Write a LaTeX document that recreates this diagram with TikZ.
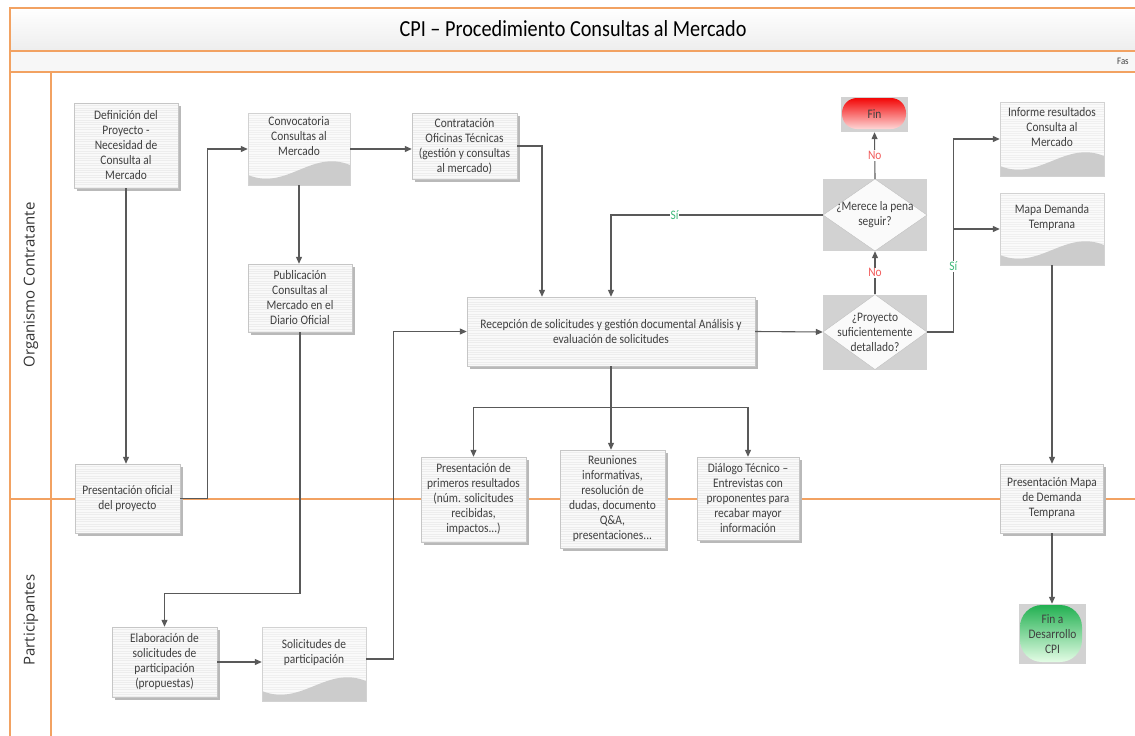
\documentclass[tikz,border=0pt]{standalone}
\usepackage{fontspec}
\setmainfont{Carlito}[FakeStretch=0.88]
\newfontfamily\lanefont{Open Sans}
\usetikzlibrary{arrows.meta,shadows,calc}

\definecolor{lanecol}{HTML}{F2A262}
\definecolor{txtcol}{HTML}{404040}
\definecolor{nocol}{HTML}{F25C5C}
\definecolor{sicol}{HTML}{3CB878}
\definecolor{endgr}{HTML}{1FAF4F}

\tikzset{
  lane/.style={draw=lanecol, line width=1.2pt},
  boxfont/.style={text=txtcol, align=center, font=\fontsize{13}{15}\selectfont},
  proc/.style={rectangle, boxfont, draw=gray!45, fill=gray!5, inner sep=2pt,
    drop shadow={shadow xshift=2.5pt, shadow yshift=-2.5pt, fill=gray!55, opacity=1},
    path picture={\foreach \k in {1,...,45}
      \draw[gray!14, line width=0.4pt] ($(path picture bounding box.north west)+(0pt,-\k*2.4pt)$) -- ++(320pt,0pt);}},
  docbox/.style={rectangle, boxfont, draw=gray!35, fill=gray!4, inner sep=2pt, text depth=25pt,
    path picture={\foreach \k in {1,...,35}
      \draw[gray!12, line width=0.4pt] ($(path picture bounding box.north west)+(0pt,-\k*2.4pt)$) -- ++(320pt,0pt);
      \fill[gray!40] ($(path picture bounding box.south east)+(0pt,20pt)$)
        .. controls ($(path picture bounding box.south west)!0.62!(path picture bounding box.south east)+(0pt,36pt)$)
        and ($(path picture bounding box.south west)!0.38!(path picture bounding box.south east)+(0pt,-6pt)$)
        .. ($(path picture bounding box.south west)+(0pt,10pt)$)
        -- (path picture bounding box.south west) -- (path picture bounding box.south east) -- cycle;}},
  dec/.style={rectangle, boxfont, fill=gray!35, inner sep=0pt,
    path picture={\filldraw[fill=gray!4, draw=gray!50, line width=0.4pt]
      (path picture bounding box.north) -- (path picture bounding box.east)
      -- (path picture bounding box.south) -- (path picture bounding box.west) -- cycle;}},
  endred/.style={rectangle, boxfont, fill=gray!35, inner sep=0pt,
    path picture={\shade[top color=red!95!black, bottom color=red!8, rounded corners=15pt]
      ($(path picture bounding box.north west)+(1pt,-1pt)$) rectangle ($(path picture bounding box.south east)+(-2pt,3pt)$);}},
  endgreen/.style={rectangle, boxfont, fill=gray!35, inner sep=0pt,
    path picture={\shade[top color=endgr, bottom color=green!8, rounded corners=22pt]
      ($(path picture bounding box.north west)+(1pt,-1pt)$) rectangle ($(path picture bounding box.south east)+(-4pt,2pt)$);}},
  flow/.style={draw=black!65, line width=1.1pt, -{Triangle[length=7pt,width=6pt]}},
  nolab/.style={text=nocol, fill=white, inner sep=1pt, font=\fontsize{13}{15}\selectfont},
  silab/.style={text=sicol, fill=white, inner sep=1pt, font=\fontsize{13}{15}\selectfont},
  lanelabel/.style={text=black!80, font=\lanefont\fontsize{15}{17}\selectfont}
}

\begin{document}
\begin{tikzpicture}[x=1pt,y=-1pt]
\useasboundingbox (0,0) rectangle (1135,736);

% header and lanes
\shade[top color=white, bottom color=gray!14] (10,8) rectangle (1135,51);
\fill[gray!6] (10,51) rectangle (1135,72);
\draw[lane] (1135,8) -- (10,8) -- (10,736);
\draw[lane] (10,51) -- (1135,51);
\draw[lane] (10,72) -- (1135,72);
\draw[lane] (51,72) -- (51,736);
\draw[lane] (10,499) -- (1135,499);
\node[font=\fontsize{23}{26}\selectfont] (title) at (573,29) {CPI – Procedimiento Consultas al Mercado};
\node[anchor=west, inner sep=0pt, text=txtcol, font=\fontsize{10}{11}\selectfont] (fase) at (1117,61) {Fas};
\node[lanelabel, rotate=90] (orgc) at (31,285) {Organismo Contratante};
\node[lanelabel, rotate=90] (part) at (31,620) {Participantes};

% Organismo Contratante
\node[proc, minimum width=104pt, minimum height=85pt] (defin) at (126,145.5) {Definición del\\Proyecto -\\Necesidad de\\Consulta al\\Mercado};
\node[docbox, minimum width=102pt, minimum height=72pt] (convoc) at (299,149) {Convocatoria\\Consultas al\\Mercado};
\node[proc, minimum width=105pt, minimum height=66pt] (contrat) at (464.5,146) {Contratación\\Oficinas Técnicas\\(gestión y consultas\\al mercado)};
\node[proc, minimum width=104pt, minimum height=68pt] (publ) at (300,298) {Publicación\\Consultas al\\Mercado en el\\Diario Oficial};
\node[proc, minimum width=288pt, minimum height=69pt] (recep) at (611,331.5) {Recepción de solicitudes y gestión documental Análisis y\\evaluación de solicitudes};
\node[dec, minimum width=104pt, minimum height=75pt] (proy) at (875,332) {¿Proyecto\\suficientemente\\detallado?};
\node[dec, minimum width=104pt, minimum height=72pt] (merece) at (875,215) {¿Merece la pena\\seguir?};
\node[endred, minimum width=67pt, minimum height=35pt] (fin) at (874.5,114.5) {Fin};
\node[docbox, minimum width=104pt, minimum height=74pt] (informe) at (1052,139) {Informe resultados\\Consulta al\\Mercado};
\node[docbox, minimum width=104pt, minimum height=72pt] (mapa) at (1052,229) {Mapa Demanda\\Temprana};

% on the lane border
\node[proc, minimum width=105pt, minimum height=69pt] (presof) at (127.5,498.5) {Presentación oficial\\del proyecto};
\node[proc, minimum width=105pt, minimum height=85pt] (prim) at (473.5,499.5) {Presentación de\\primeros resultados\\(núm. solicitudes\\recibidas,\\impactos...)};
\node[proc, minimum width=105pt, minimum height=98pt] (reun) at (612.5,499) {Reuniones\\informativas,\\resolución de\\dudas, documento\\Q\&A,\\presentaciones...};
\node[proc, minimum width=102pt, minimum height=83pt] (dialogo) at (748,498.5) {Diálogo Técnico –\\Entrevistas con\\proponentes para\\recabar mayor\\información};
\node[proc, minimum width=103pt, minimum height=69pt] (presmapa) at (1052,498.5) {Presentación Mapa\\de Demanda\\Temprana};

% Participantes
\node[proc, minimum width=105pt, minimum height=70pt] (elab) at (164.5,662) {Elaboración de\\solicitudes de\\participación\\(propuestas)};
\node[docbox, minimum width=104pt, minimum height=74pt] (solic) at (314,664) {Solicitudes de\\participación};
\node[endgreen, minimum width=67pt, minimum height=60pt] (findes) at (1052.5,634) {Fin a\\Desarrollo\\CPI};

% connectors
\draw[flow] (defin.south) -- (defin.south |- presof.north);
\draw[flow] (presof.east) -- ++(27,0) |- (convoc.west);
\draw[flow] (convoc.east) -- (convoc.east -| contrat.west);
\draw[flow] (convoc.south) -- (convoc.south |- publ.north);
\draw[flow] (contrat.east) -| ([xshift=-69pt]recep.north);
\draw[flow] (merece.west) -| node[silab, pos=0.35] (si1) {Sí} (recep.north);
\draw[flow] (recep.east) -- (proy.west);
\draw[flow] (proy.north) -- node[nolab] (no1) {No} (merece.south);
\draw[flow] (merece.north) -- node[nolab] (no2) {No} (fin.south);
\coordinate (sibr) at ($(proy.east)+(26,0)$);
\draw[flow] (proy.east) -- (sibr) |- node[silab, pos=0.17] (si2) {Sí} (informe.west);
\draw[flow] (sibr |- mapa.west) -- (mapa.west);
\draw[flow] (mapa.south) -- (mapa.south |- presmapa.north);
\draw[flow] (presmapa.south) -- (presmapa.south |- findes.north);
\coordinate (split) at ($(recep.south)+(0,41)$);
\draw[flow] (recep.south) -- (recep.south |- reun.north);
\draw[flow] (split) -| (prim.north);
\draw[flow] (split) -| (dialogo.north);
\draw[flow] (publ.south) -- ++(0,261) -| (elab.north);
\draw[flow] (elab.east) -- (elab.east -| solic.west);
\draw[flow] ([yshift=5pt]solic.east) -- ++(27,0) |- (recep.west);
\end{tikzpicture}
\end{document}
